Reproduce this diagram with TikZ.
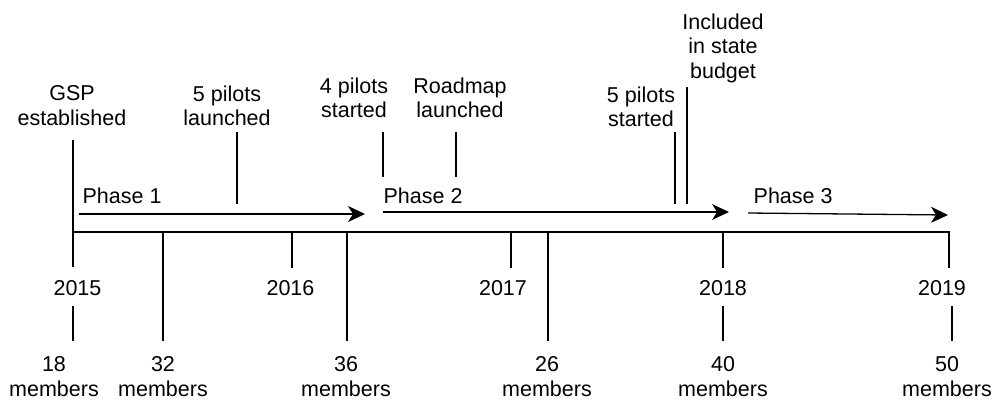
\documentclass[tikz,border=0pt]{standalone}
\usepackage{fontspec}
\setmainfont{Liberation Sans}
\usetikzlibrary{arrows.meta}
\begin{document}
\begin{tikzpicture}[x=1pt,y=-1pt,line width=1.3pt,
  lbl/.style={align=center,inner sep=0pt,font=\fontsize{21.5}{24.7}\selectfont},
  phase/.style={-{Stealth[length=17pt,width=16pt,inset=5pt]}}]
\useasboundingbox (0,0) rectangle (993,400);

% events above the axis
\node[lbl,anchor=north] (gsp) at (72,85) {GSP\\established};
\node[lbl,anchor=north] (launch5) at (227,85) {5 pilots\\launched};
\node[lbl,anchor=north] (start4) at (354,77) {4 pilots\\started};
\node[lbl,anchor=north] (roadmap) at (460,77) {Roadmap\\launched};
\node[lbl,anchor=north] (start5) at (641,86) {5 pilots\\started};
\node[lbl,anchor=north] (budget) at (723,13) {Included\\in state\\budget};

\coordinate (gspA) at (73,140);
\coordinate (launch5A) at (237,132);  \coordinate (launch5B) at (237,204);
\coordinate (start4A) at (383,132);   \coordinate (start4B) at (383,177);
\coordinate (roadmapA) at (456,132);  \coordinate (roadmapB) at (456,177);
\coordinate (start5A) at (675,132);   \coordinate (start5B) at (675,204);
\coordinate (budgetA) at (687,87);    \coordinate (budgetB) at (687,204);

% phases
\node[lbl,anchor=base west] (p1) at (82,203) {Phase 1};
\node[lbl,anchor=base west] (p2) at (383,203) {Phase 2};
\node[lbl,anchor=base west] (p3) at (753,203) {Phase 3};
\coordinate (p1A) at (79,214);  \coordinate (p1B) at (365,214);
\coordinate (p2A) at (383,212); \coordinate (p2B) at (729,212);
\coordinate (p3A) at (748,213); \coordinate (p3B) at (948,215);

% axis
\coordinate (ax0) at (73,232);
\coordinate (ax1) at (949,232);

% years
\node[lbl,anchor=base] (y15) at (77.5,295) {2015};
\node[lbl,anchor=base] (y16) at (290.5,295) {2016};
\node[lbl,anchor=base] (y17) at (503,295) {2017};
\node[lbl,anchor=base] (y18) at (723,295) {2018};
\node[lbl,anchor=base] (y19) at (942,295) {2019};
\coordinate (t15) at (73,267);
\coordinate (t16A) at (292,232); \coordinate (t16B) at (292,268);
\coordinate (t17A) at (511,232); \coordinate (t17B) at (511,268);
\coordinate (t18A) at (723,232); \coordinate (t18B) at (723,268);
\coordinate (t19) at (949,268);

% members
\node[lbl,anchor=north] (m18) at (54,356) {18\\members};
\node[lbl,anchor=north] (m32) at (163,356) {32\\members};
\node[lbl,anchor=north] (m36) at (346,356) {36\\members};
\node[lbl,anchor=north] (m26) at (547,356) {26\\members};
\node[lbl,anchor=north] (m40) at (723,356) {40\\members};
\node[lbl,anchor=north] (m50) at (947,356) {50\\members};
\coordinate (m32A) at (163,232); \coordinate (m32B) at (163,341);
\coordinate (m36A) at (347,232); \coordinate (m36B) at (347,341);
\coordinate (m26A) at (548,232); \coordinate (m26B) at (548,341);
\coordinate (m18A) at (73,306);  \coordinate (m18B) at (73,341);
\coordinate (m40A) at (723,306); \coordinate (m40B) at (723,341);
\coordinate (m50A) at (952,306); \coordinate (m50B) at (952,341);

\path[draw] (ax0) -- (ax1) -- (t19);
\path[draw] (gspA) -- (t15);
\path[draw] (launch5A) -- (launch5B);
\path[draw] (start4A) -- (start4B);
\path[draw] (roadmapA) -- (roadmapB);
\path[draw] (start5A) -- (start5B);
\path[draw] (budgetA) -- (budgetB);
\path[draw] (t16A) -- (t16B);
\path[draw] (t17A) -- (t17B);
\path[draw] (t18A) -- (t18B);
\path[draw] (m32A) -- (m32B);
\path[draw] (m36A) -- (m36B);
\path[draw] (m26A) -- (m26B);
\path[draw] (m18A) -- (m18B);
\path[draw] (m40A) -- (m40B);
\path[draw] (m50A) -- (m50B);

\path[draw,phase] (p1A) -- (p1B);
\path[draw,phase] (p2A) -- (p2B);
\path[draw,phase] (p3A) -- (p3B);
\end{tikzpicture}
\end{document}
